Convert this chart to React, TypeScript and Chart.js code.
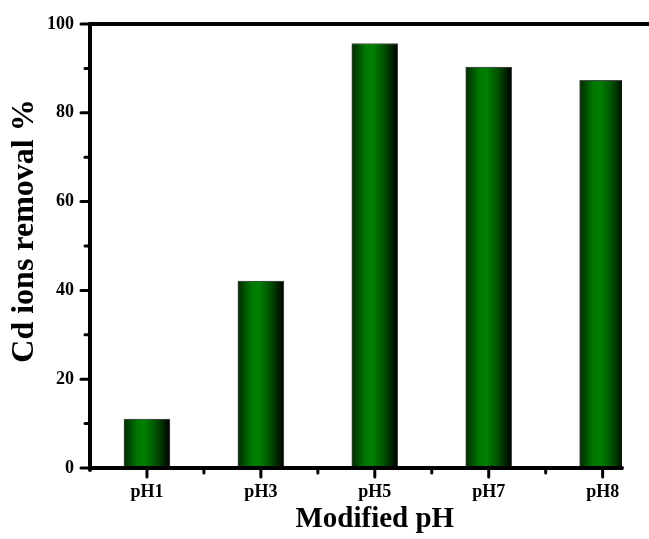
import React, { useEffect, useRef } from "react";
import { Chart, registerables } from "chart.js";

Chart.register(...registerables);

const categories = ["pH1", "pH3", "pH5", "pH7", "pH8"];
const removal = [11.0, 42.1, 95.6, 90.3, 87.3];
const yMajorTicks = [0, 20, 40, 60, 80, 100];
const yMinorTicks = [10, 30, 50, 70, 90];
const xMinorTicks = [1.5, 2.5, 3.5, 4.5];
const xTitle = "Modified pH";
const yTitle = "Cd ions removal %";

const FONT = "'Liberation Serif', 'Times New Roman', serif";

export default function App() {
  const canvasRef = useRef<HTMLCanvasElement | null>(null);

  useEffect(() => {
    const canvas = canvasRef.current;
    if (!canvas) return;

    const axesPlugin = {
      id: "customAxes",
      afterDraw(chart: any) {
        const { ctx, chartArea, scales } = chart;
        const { left, right, top, bottom } = chartArea;
        ctx.save();
        ctx.strokeStyle = "#000";
        ctx.lineWidth = 4;
        ctx.lineCap = "round";
        ctx.beginPath();
        ctx.moveTo(left, top);
        ctx.lineTo(chart.width + 5, top);
        ctx.stroke();
        ctx.beginPath();
        ctx.moveTo(left, top);
        ctx.lineTo(left, bottom + 2);
        ctx.stroke();
        ctx.beginPath();
        ctx.moveTo(left, bottom);
        ctx.lineTo(right, bottom);
        ctx.stroke();
        ctx.lineWidth = 3;
        yMajorTicks.forEach((v) => {
          const y = scales.y.getPixelForValue(v);
          ctx.beginPath();
          ctx.moveTo(left, y);
          ctx.lineTo(left - 9, y);
          ctx.stroke();
        });
        yMinorTicks.forEach((v) => {
          const y = scales.y.getPixelForValue(v);
          ctx.beginPath();
          ctx.moveTo(left, y);
          ctx.lineTo(left - 5, y);
          ctx.stroke();
        });
        categories.forEach((_, i) => {
          const x = scales.x.getPixelForValue(i + 1);
          ctx.beginPath();
          ctx.moveTo(x, bottom);
          ctx.lineTo(x, bottom + 9);
          ctx.stroke();
        });
        xMinorTicks.forEach((v) => {
          const x = scales.x.getPixelForValue(v);
          ctx.beginPath();
          ctx.moveTo(x, bottom);
          ctx.lineTo(x, bottom + 5);
          ctx.stroke();
        });
        ctx.fillStyle = "#000";
        ctx.textAlign = "center";
        ctx.textBaseline = "middle";
        ctx.font = `bold 29px ${FONT}`;
        ctx.fillText(xTitle, scales.x.getPixelForValue(3), 520);
        ctx.save();
        ctx.translate(25, 231);
        ctx.rotate(-Math.PI / 2);
        ctx.font = `bold 32px ${FONT}`;
        ctx.fillText(yTitle, 0, 0);
        ctx.restore();
        ctx.restore();
      },
    };

    const BAR_W = 46;

    const chart = new Chart(canvas, {
      type: "bar",
      data: {
        datasets: [
          {
            data: removal.map((v, i) => ({ x: i + 1, y: v })),
            barThickness: BAR_W,
            borderWidth: 1,
            borderColor: "#4a4a4a",
            borderSkipped: false,
            backgroundColor: (c: any) => {
              const ch = c.chart;
              if (!ch.chartArea || c.dataIndex === undefined) return "#008000";
              const cx = ch.scales.x.getPixelForValue(c.dataIndex + 1);
              const g = ch.ctx.createLinearGradient(cx - BAR_W / 2, 0, cx + BAR_W / 2, 0);
              g.addColorStop(0, "#022a02");
              g.addColorStop(0.3, "#007800");
              g.addColorStop(0.45, "#008000");
              g.addColorStop(0.7, "#005000");
              g.addColorStop(1, "#000000");
              return g;
            },
          } as any,
        ],
      },
      options: {
        animation: false,
        responsive: true,
        maintainAspectRatio: false,
        layout: { padding: { top: 24, right: 27, left: 0, bottom: 0 } },
        plugins: {
          legend: { display: false },
          tooltip: { enabled: false },
        },
        scales: {
          x: {
            type: "linear",
            min: 0.5,
            max: 5.17,
            offset: false,
            grid: { display: false, drawTicks: false },
            border: { display: false },
            afterBuildTicks: (s: any) => {
              s.ticks = categories.map((_, i) => ({ value: i + 1 }));
            },
            afterFit: (s: any) => {
              s.height = 71;
              s.paddingLeft = 0;
              s.paddingRight = 0;
            },
            ticks: {
              autoSkip: false,
              maxRotation: 0,
              padding: 14,
              color: "#000",
              font: { family: FONT, size: 18, weight: "bold" },
              callback: (v: any) => categories[Math.round(Number(v)) - 1] ?? "",
            },
          },
          y: {
            min: 0,
            max: 100,
            grid: { display: false, drawTicks: false },
            border: { display: false },
            afterBuildTicks: (s: any) => {
              s.ticks = yMajorTicks.map((v) => ({ value: v }));
            },
            afterFit: (s: any) => {
              s.width = 90;
              s.paddingTop = 0;
              s.paddingBottom = 0;
            },
            ticks: {
              padding: 16,
              color: "#000",
              font: { family: FONT, size: 18, weight: "bold" },
            },
          },
        },
      } as any,
      plugins: [axesPlugin],
    });

    return () => chart.destroy();
  }, []);

  return (
    <div style={{ position: "fixed", left: 0, top: 0, width: 649, height: 539, background: "#fff" }}>
      <canvas ref={canvasRef} />
    </div>
  );
}
